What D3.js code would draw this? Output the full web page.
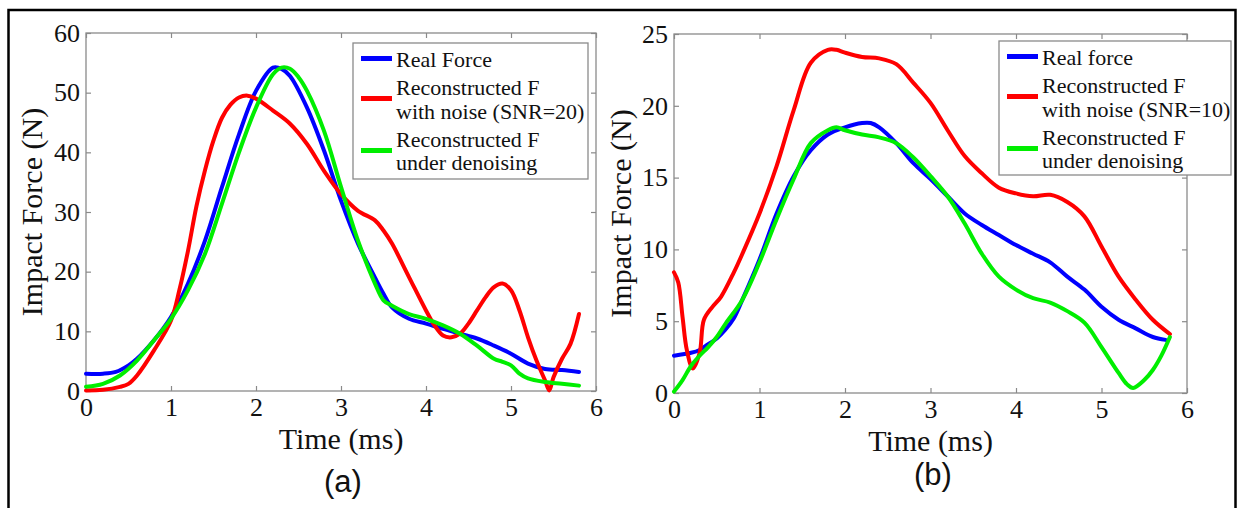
<!DOCTYPE html>
<html>
<head>
<meta charset="utf-8">
<script src="https://cdn.jsdelivr.net/npm/d3@7"></script>
<style>
  body { margin: 0; background: #fff; }
  svg { display: block; }
</style>
</head>
<body>
<div id="viz"></div>
<script>
const width = 1244;
const height = 508;

// tick labels
const xTicks = [0, 1, 2, 3, 4, 5, 6];
const aYTicks = [0, 10, 20, 30, 40, 50, 60];
const bYTicks = [0, 5, 10, 15, 20, 25];

// legend text
const aLegend = [["Real Force"], ["Reconstructed F", "with noise (SNR=20)"], ["Reconstructed F", "under denoising"]];
const bLegend = [["Real force"], ["Reconstructed F", "with noise (SNR=10)"], ["Reconstructed F", "under denoising"]];

// (a) SNR=20, time in ms, force in N
const aRealT = [0, 0.2, 0.35, 0.5, 0.6, 0.8, 1.0, 1.2, 1.4, 1.6, 1.8, 2.0, 2.2, 2.3, 2.4, 2.6, 2.8, 3.0, 3.2, 3.4, 3.5, 3.6, 3.8, 4.0, 4.2, 4.4, 4.6, 4.8, 5.0, 5.2, 5.4, 5.6, 5.8];
const aReal = [2.9, 2.9, 3.2, 4.3, 5.4, 8.5, 12.4, 18, 25.2, 34.2, 43, 50.3, 54.2, 54, 52.8, 47.5, 40.3, 31.9, 24.7, 19, 16.3, 14, 12.1, 11.3, 10.4, 9.6, 8.8, 7.6, 6.25, 4.6, 3.7, 3.5, 3.2];

const aNoiseT = [0, 0.2, 0.4, 0.5, 0.6, 0.8, 1.0, 1.1, 1.2, 1.3, 1.4, 1.5, 1.6, 1.7, 1.8, 1.9, 2.0, 2.2, 2.4, 2.6, 2.8, 3.0, 3.2, 3.4, 3.5, 3.6, 3.8, 4.0, 4.1, 4.2, 4.3, 4.4, 4.5, 4.6, 4.7, 4.8, 4.9, 5.0, 5.1, 5.2, 5.3, 5.4, 5.45, 5.5, 5.6, 5.7, 5.8];
const aNoise = [0.1, 0.2, 0.7, 1.2, 2.6, 6.8, 11.8, 17, 23.5, 31, 37, 42, 45.8, 48, 49.2, 49.5, 49, 47, 44.8, 41.4, 36.9, 33, 30.2, 28.6, 26.9, 24.7, 19.1, 13.5, 11, 9.3, 9, 9.6, 11.3, 13.5, 15.7, 17.4, 18, 16.9, 13.5, 9, 5.1, 1.8, 0.1, 2.3, 5.4, 7.9, 12.9];

const aDenT = [0, 0.2, 0.4, 0.6, 0.8, 1.0, 1.2, 1.4, 1.6, 1.8, 2.0, 2.2, 2.3, 2.4, 2.5, 2.6, 2.8, 3.0, 3.2, 3.4, 3.5, 3.6, 3.8, 4.0, 4.2, 4.4, 4.6, 4.8, 4.9, 5.0, 5.1, 5.2, 5.4, 5.6, 5.8];
const aDen = [0.7, 1.2, 2.6, 5.1, 8.5, 12.1, 16.9, 23, 31.4, 40, 47.5, 53.1, 54.2, 54, 52.6, 50.3, 43.6, 34.2, 25.2, 18, 15.2, 14.3, 12.9, 12.1, 11, 9.6, 7.6, 5.4, 4.9, 4.3, 2.9, 2.1, 1.5, 1.2, 0.9];

// (b) SNR=10
const bRealT = [0, 0.2, 0.3, 0.4, 0.5, 0.6, 0.7, 0.8, 1.0, 1.2, 1.4, 1.6, 1.8, 2.0, 2.2, 2.3, 2.4, 2.6, 2.8, 3.0, 3.2, 3.4, 3.6, 3.8, 4.0, 4.2, 4.4, 4.6, 4.8, 5.0, 5.2, 5.4, 5.6, 5.75];
const bReal = [2.6, 2.8, 3.0, 3.4, 3.8, 4.4, 5.2, 6.5, 9.3, 12.5, 15.1, 16.9, 18, 18.5, 18.8, 18.8, 18.5, 17.4, 16, 14.9, 13.7, 12.5, 11.7, 11, 10.3, 9.7, 9.1, 8.1, 7.2, 6.0, 5.1, 4.5, 3.9, 3.7];

const bNoiseT = [0, 0.05, 0.1, 0.15, 0.22, 0.3, 0.35, 0.45, 0.55, 0.7, 0.8, 1.0, 1.2, 1.4, 1.6, 1.8, 1.9, 2.0, 2.2, 2.4, 2.6, 2.8, 3.0, 3.2, 3.4, 3.6, 3.8, 4.0, 4.2, 4.4, 4.6, 4.8, 5.0, 5.2, 5.4, 5.6, 5.8];
const bNoise = [8.4, 7.7, 5.3, 3.0, 1.7, 2.8, 5.1, 6.0, 6.7, 8.4, 9.7, 12.5, 15.8, 19.7, 23, 23.9, 23.9, 23.7, 23.4, 23.3, 22.9, 21.6, 20.2, 18.3, 16.5, 15.3, 14.3, 13.9, 13.7, 13.8, 13.3, 12.3, 10.2, 8.1, 6.5, 5.1, 4.1];

const bDenT = [0, 0.1, 0.2, 0.3, 0.4, 0.5, 0.6, 0.8, 1.0, 1.2, 1.4, 1.6, 1.8, 1.9, 2.0, 2.2, 2.4, 2.6, 2.8, 3.0, 3.2, 3.4, 3.6, 3.8, 4.0, 4.2, 4.4, 4.6, 4.8, 5.0, 5.2, 5.3, 5.37, 5.5, 5.6, 5.7, 5.8];
const bDen = [0.1, 0.9, 1.9, 2.6, 3.2, 3.9, 4.8, 6.5, 9.1, 12.1, 14.9, 17.4, 18.3, 18.5, 18.3, 18.0, 17.8, 17.4, 16.4, 15.1, 13.7, 11.8, 9.7, 8.1, 7.2, 6.6, 6.3, 5.7, 4.9, 3.2, 1.4, 0.6, 0.35, 0.9, 1.6, 2.6, 3.9];

const colors = ['#0000ff', '#ff0000', '#00ee00'];
const serif = '"Liberation Serif", "Times New Roman", serif';

const panels = [
    {
        left: 86, right: 596, top: 33, bottom: 391, yMax: 60, yTicks: aYTicks,
        series: [[aRealT, aReal], [aNoiseT, aNoise], [aDenT, aDen]],
        legend: aLegend, lx: 353, ly: 43, lw: 235, lh: 136,
        titleX: 42, label: '(a)', labelX: 343, labelY: 492
    },
    {
        left: 674, right: 1187, top: 34, bottom: 393, yMax: 25, yTicks: bYTicks,
        series: [[bRealT, bReal], [bNoiseT, bNoise], [bDenT, bDen]],
        legend: bLegend, lx: 999, ly: 41, lw: 232, lh: 134,
        titleX: 631, label: '(b)', labelX: 933, labelY: 485
    }
];

const svg = d3.select('#viz')
    .append('svg')
        .attr('width', width)
        .attr('height', height);

svg.append('rect')
    .attr('width', width)
    .attr('height', height)
    .attr('fill', '#fff');

// outer frame
svg.append('rect')
    .attr('x', 8.5)
    .attr('y', 10)
    .attr('width', 1227)
    .attr('height', 520)
    .attr('fill', 'none')
    .attr('stroke', '#000')
    .attr('stroke-width', 2.5);

panels.forEach(p => drawPanel(p));

function drawPanel(p) {
    const x = d3.scaleLinear().domain([0, 6]).range([p.left, p.right]);
    const y = d3.scaleLinear().domain([0, p.yMax]).range([p.bottom, p.top]);
    const fmt = d3.format('d');

    const g = svg.append('g');

    // plot box
    g.append('rect')
        .attr('x', p.left)
        .attr('y', p.top)
        .attr('width', p.right - p.left)
        .attr('height', p.bottom - p.top)
        .attr('fill', 'none')
        .attr('stroke', '#8a8a8a')
        .attr('stroke-width', 1.3);

    const axes = [
        [d3.axisBottom(x).tickValues(xTicks).tickFormat(fmt).tickPadding(7), `translate(0, ${p.bottom})`],
        [d3.axisTop(x).tickValues(xTicks).tickFormat(''), `translate(0, ${p.top})`],
        [d3.axisLeft(y).tickValues(p.yTicks).tickFormat(fmt).tickPadding(6), `translate(${p.left}, 0)`],
        [d3.axisRight(y).tickValues(p.yTicks).tickFormat(''), `translate(${p.right}, 0)`]
    ];
    axes.forEach(([axis, tr]) => {
        const a = g.append('g')
            .attr('transform', tr)
            .call(axis.tickSizeInner(-5).tickSizeOuter(0));
        a.select('.domain').remove();
        a.selectAll('line').attr('stroke', '#8a8a8a').attr('stroke-width', 1.2);
        a.selectAll('text')
            .attr('fill', '#111')
            .style('font-family', serif)
            .style('font-size', '26px');
    });

    // lines
    const line = d3.line()
        .x(d => x(d[0]))
        .y(d => y(d[1]))
        .curve(d3.curveCatmullRom.alpha(0.5));

    p.series.forEach(([ts, vs], i) => {
        g.append('path')
            .datum(ts.map((t, j) => [t, vs[j]]))
            .attr('d', line)
            .attr('fill', 'none')
            .attr('stroke', colors[i])
            .attr('stroke-width', 4)
            .attr('stroke-linejoin', 'round')
            .attr('stroke-linecap', 'round');
    });

    // axis titles
    g.append('text')
        .attr('x', (p.left + p.right) / 2)
        .attr('y', p.bottom + 58)
        .attr('text-anchor', 'middle')
        .style('font-family', serif)
        .style('font-size', '30px')
        .attr('fill', '#111')
        .text('Time (ms)');

    g.append('text')
        .attr('transform', `translate(${p.titleX}, ${(p.top + p.bottom) / 2}) rotate(-90)`)
        .attr('text-anchor', 'middle')
        .style('font-family', serif)
        .style('font-size', '30px')
        .attr('fill', '#111')
        .text('Impact Force (N)');

    // legend
    const lg = g.append('g');
    lg.append('rect')
        .attr('x', p.lx)
        .attr('y', p.ly)
        .attr('width', p.lw)
        .attr('height', p.lh)
        .attr('fill', '#fff')
        .attr('stroke', '#8a8a8a')
        .attr('stroke-width', 1.3);

    const rowY = [[23.5], [52, 76], [104, 127]];
    const lineY = [15.5, 55.5, 107.5];
    p.legend.forEach((rows, i) => {
        lg.append('line')
            .attr('x1', p.lx + 8)
            .attr('x2', p.lx + 39)
            .attr('y1', p.ly + lineY[i])
            .attr('y2', p.ly + lineY[i])
            .attr('stroke', colors[i])
            .attr('stroke-width', 5);
        rows.forEach((r, k) => {
            lg.append('text')
                .attr('x', p.lx + 43)
                .attr('y', p.ly + rowY[i][k])
                .style('font-family', serif)
                .style('font-size', '22px')
                .attr('fill', '#111')
                .text(r);
        });
    });

    // panel label
    svg.append('text')
        .attr('x', p.labelX)
        .attr('y', p.labelY)
        .attr('text-anchor', 'middle')
        .style('font-family', '"Liberation Sans", Arial, sans-serif')
        .style('font-size', '31px')
        .attr('fill', '#111')
        .text(p.label);
}
</script>
</body>
</html>
